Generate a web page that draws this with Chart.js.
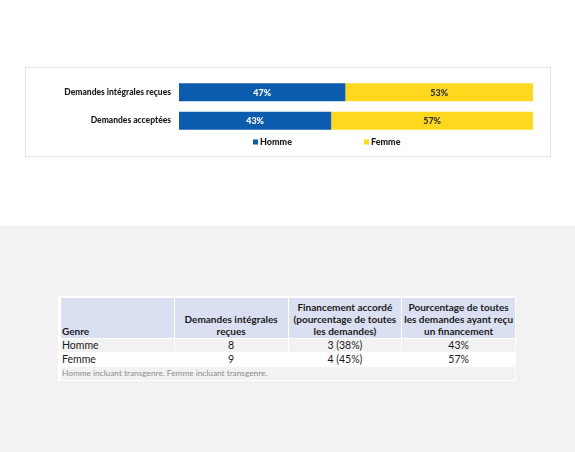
<!DOCTYPE html>
<html>
<head>
<meta charset="utf-8">
<script src="https://cdn.jsdelivr.net/npm/chart.js@4/dist/chart.umd.min.js"></script>
<style>
  body { margin: 0; width: 575px; height: 452px; overflow: hidden; background: #fff; font-family: Lato, sans-serif; position: relative; }
  #chartBox { position: absolute; left: 25px; top: 67px; width: 524px; height: 88px; border: 1px solid #e4e4e4; }
  #greyZone { position: absolute; left: 0; top: 226px; width: 575px; height: 226px; background: #f2f2f2; }
  #panel { position: absolute; left: 58px; top: 296px; width: 458px; height: 85px; background: #fff; }
  table { position: absolute; left: 60px; top: 297px; width: 456px; border-collapse: separate; border-spacing: 1px; table-layout: fixed; color: #1a1a1a; font-size: 10px; }
  th { background: #dae0f2; font-weight: bold; height: 39px; padding: 0 0 1px 0; vertical-align: bottom; line-height: 12px; text-align: center; }
  th.first { text-align: left; padding-left: 1px; }
  td { height: 13px; padding: 0; line-height: 13px; text-align: center; font-size: 10.5px; }
  td.first { text-align: left; padding-left: 1px; }
  tr.grey td { background: #f2f2f2; }
  td.note { text-align: left; color: #8c8c8c; font-size: 8.3px; background: #f2f2f2; padding-left: 1px; }
</style>
</head>
<body>
<div id="chartBox"><canvas id="myChart"></canvas></div>
<div id="greyZone"></div>
<div id="panel"></div>
<table id="dataTable"></table>

<script>
// setup
const categories = ['Demandes intégrales reçues', 'Demandes acceptées'];
const seriesNames = ['Homme', 'Femme'];
const hommeValues = [47, 43];
const femmeValues = [53, 57];
const seriesColors = ['#0b5cad', '#fdd81e'];

// table
const tableHeaders = ['Genre', 'Demandes intégrales reçues', 'Financement accordé (pourcentage de toutes les demandes)', 'Pourcentage de toutes les demandes ayant reçu un financement'];
const tableGenres = ['Homme', 'Femme'];
const tableReceived = ['8', '9'];
const tableFunded = ['3 (38%)', '4 (45%)'];
const tablePercent = ['43%', '57%'];
const tableNote = 'Homme incluant transgenre. Femme incluant transgenre.';

const table = document.getElementById('dataTable');
let html = '<tr>' + tableHeaders.map((h, i) => '<th' + (i === 0 ? ' class="first"' : '') + '>' + h + '</th>').join('') + '</tr>';
tableGenres.forEach((g, i) => {
  html += '<tr' + (i === 0 ? ' class="grey"' : '') + '><td class="first">' + g + '</td><td>' + tableReceived[i] + '</td><td>' + tableFunded[i] + '</td><td>' + tablePercent[i] + '</td></tr>';
});
html += '<tr><td class="note" colspan="4">' + tableNote + '</td></tr>';
table.innerHTML = html;

const data = {
  labels: categories,
  datasets: [
    { label: seriesNames[0], data: hommeValues, backgroundColor: seriesColors[0] },
    { label: seriesNames[1], data: femmeValues, backgroundColor: seriesColors[1] },
  ],
};

// percent labels inside the bars
const barLabels = {
  id: 'barLabels',
  afterDatasetsDraw(chart) {
    const { ctx } = chart;
    ctx.save();
    ctx.font = '900 9px Lato';
    ctx.textAlign = 'center';
    ctx.textBaseline = 'middle';
    chart.data.datasets.forEach((ds, d) => {
      chart.getDatasetMeta(d).data.forEach((bar, i) => {
        ctx.fillStyle = d === 0 ? '#ffffff' : '#333333';
        ctx.fillText(ds.data[i] + '%', (bar.x + bar.base) / 2, bar.y + 0.5);
      });
    });
    ctx.restore();
  },
};

// legend under the bars, wide spacing like the original
const wideLegend = {
  id: 'wideLegend',
  afterDraw(chart) {
    const { ctx, chartArea } = chart;
    const y = chartArea.bottom + 7;
    const offsets = [74, 185];
    ctx.save();
    ctx.font = '900 9px Lato';
    ctx.textBaseline = 'middle';
    ctx.textAlign = 'left';
    chart.data.datasets.forEach((ds, d) => {
      const x = chartArea.left + offsets[d];
      ctx.fillStyle = ds.backgroundColor;
      ctx.fillRect(x, y - 2.5, 5, 5);
      ctx.fillStyle = '#1a1a1a';
      ctx.fillText(ds.label, x + 7, y);
    });
    ctx.restore();
  },
};

// config
const config = {
  type: 'bar',
  data,
  options: {
    indexAxis: 'y',
    responsive: true,
    maintainAspectRatio: false,
    animation: false,
    datasets: { bar: { categoryPercentage: 0.7, barPercentage: 0.9 } },
    layout: { padding: { top: 10, right: 17, bottom: 21, left: 0 } },
    scales: {
      x: { stacked: true, min: 0, max: 100, display: false },
      y: {
        stacked: true,
        grid: { display: false },
        border: { display: false },
        ticks: { padding: 0, color: '#1a1a1a', font: { family: 'Lato', weight: '900', size: 8.5 } },
        afterFit(scale) { scale.width = 153; },
      },
    },
    plugins: { legend: { display: false }, tooltip: { enabled: false } },
  },
  plugins: [barLabels, wideLegend],
};

// render init block
const myChart = new Chart(document.getElementById('myChart'), config);
</script>
</body>
</html>
